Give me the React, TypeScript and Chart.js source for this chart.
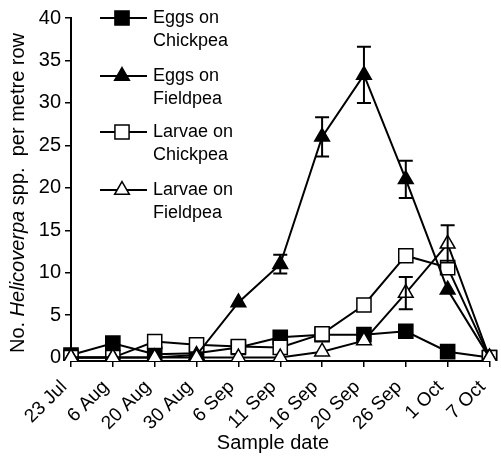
import React, { useEffect, useRef } from 'react';
import { Chart, registerables } from 'chart.js';
Chart.register(...registerables);

const categories = ['23 Jul', '6 Aug', '20 Aug', '30 Aug', '6 Sep', '11 Sep', '16 Sep', '20 Sep', '26 Sep', '1 Oct', '7 Oct'];
const eggsChickpea = [0.3, 1.7, 0.4, 0.5, 1.2, 2.4, 2.7, 2.7, 3.1, 0.7, 0];
const eggsFieldpea = [0, 0, 0, 0.3, 6.5, 11, 26, 33.3, 21, 8, 0];
const larvaeChickpea = [0, 0, 1.9, 1.5, 1.3, 1.2, 2.8, 6.2, 12, 10.6, 0];
const larvaeFieldpea = [0, 0, 0, 0, 0, 0, 0.7, 2.0, 7.6, 13.4, 0];
const eggsFieldpeaErr = [null, null, null, null, null, 1.1, 2.3, 3.3, 2.2, null, null];
const larvaeFieldpeaErr = [null, null, null, null, null, null, null, null, 1.9, 2.2, null];
const yTicks = [0, 5, 10, 15, 20, 25, 30, 35, 40];
const legendNames = [['Eggs on', 'Chickpea'], ['Eggs on', 'Fieldpea'], ['Larvae on', 'Chickpea'], ['Larvae on', 'Fieldpea']];
const xTitle = 'Sample date';

const FAMILY = '"Liberation Sans", Arial, Helvetica, sans-serif';
const FS = 18;
const FS_AXIS = 20;
const FS_XTICK = 19;

function drawMarker(ctx: CanvasRenderingContext2D, style: string, filled: boolean, x: number, y: number, r: number) {
  ctx.save();
  ctx.beginPath();
  if (style === 'rect') {
    const s = Math.SQRT1_2 * r;
    ctx.rect(x - s, y - s, 2 * s, 2 * s);
  } else {
    let rad = 0;
    ctx.moveTo(x + Math.sin(rad) * r, y - Math.cos(rad) * r);
    rad += (2 * Math.PI) / 3;
    ctx.lineTo(x + Math.sin(rad) * r, y - Math.cos(rad) * r);
    rad += (2 * Math.PI) / 3;
    ctx.lineTo(x + Math.sin(rad) * r, y - Math.cos(rad) * r);
    ctx.closePath();
  }
  ctx.fillStyle = filled ? '#000' : '#fff';
  ctx.fill();
  ctx.lineWidth = 1.5;
  ctx.strokeStyle = '#000';
  ctx.stroke();
  ctx.restore();
}

const markerDefs = [
  { style: 'rect', filled: true, r: 10 },
  { style: 'triangle', filled: true, r: 8.5 },
  { style: 'rect', filled: false, r: 10 },
  { style: 'triangle', filled: false, r: 8.5 },
];

const legendPlugin = {
  id: 'customLegend',
  afterDraw(chart: any) {
    const ctx = chart.ctx as CanvasRenderingContext2D;
    const rowsY = [18, 76, 132, 190];
    ctx.save();
    rowsY.forEach((y, i) => {
      ctx.beginPath();
      ctx.moveTo(100, y);
      ctx.lineTo(147, y);
      ctx.lineWidth = 2;
      ctx.strokeStyle = '#000';
      ctx.stroke();
      const m = markerDefs[i];
      drawMarker(ctx, m.style, m.filled, 122, y, m.r);
      ctx.fillStyle = '#000';
      ctx.font = `${FS}px ${FAMILY}`;
      ctx.textBaseline = 'middle';
      ctx.textAlign = 'left';
      ctx.fillText(legendNames[i][0], 153, y);
      ctx.fillText(legendNames[i][1], 153, y + 23);
    });
    ctx.restore();
  },
};

const titlesPlugin = {
  id: 'axisTitles',
  afterDraw(chart: any) {
    const ctx = chart.ctx as CanvasRenderingContext2D;
    const parts: [string, string][] = [
      ['No. ', `${FS_AXIS}px ${FAMILY}`],
      ['Helicoverpa', `italic ${FS_AXIS}px ${FAMILY}`],
      [' spp.  per metre row', `${FS_AXIS}px ${FAMILY}`],
    ];
    ctx.save();
    let total = 0;
    parts.forEach(([t, f]) => {
      ctx.font = f;
      total += ctx.measureText(t).width;
    });
    ctx.translate(18, 193);
    ctx.rotate(-Math.PI / 2);
    ctx.textBaseline = 'middle';
    ctx.textAlign = 'left';
    ctx.fillStyle = '#000';
    let x = -total / 2;
    parts.forEach(([t, f]) => {
      ctx.font = f;
      ctx.fillText(t, x, 0);
      x += ctx.measureText(t).width;
    });
    ctx.restore();

    ctx.save();
    ctx.font = `${FS_AXIS}px ${FAMILY}`;
    ctx.fillStyle = '#000';
    ctx.textAlign = 'center';
    ctx.textBaseline = 'middle';
    ctx.fillText(xTitle, 273, 443);
    ctx.restore();
  },
};

const errorBarPlugin = {
  id: 'errorBars',
  afterDatasetsDraw(chart: any) {
    const ctx = chart.ctx as CanvasRenderingContext2D;
    const xs = chart.scales.x;
    const ys = chart.scales.y;
    const sets: [number[], (number | null)[]][] = [
      [eggsFieldpea, eggsFieldpeaErr],
      [larvaeFieldpea, larvaeFieldpeaErr],
    ];
    ctx.save();
    ctx.strokeStyle = '#000';
    ctx.lineWidth = 2;
    sets.forEach(([vals, errs]) => {
      errs.forEach((e, i) => {
        if (e == null) return;
        const px = xs.getPixelForValue(i);
        const top = ys.getPixelForValue(vals[i] + e);
        const bot = ys.getPixelForValue(vals[i] - e);
        ctx.beginPath();
        ctx.moveTo(px, top);
        ctx.lineTo(px, bot);
        ctx.moveTo(px - 7, top);
        ctx.lineTo(px + 7, top);
        ctx.moveTo(px - 7, bot);
        ctx.lineTo(px + 7, bot);
        ctx.stroke();
      });
    });
    ctx.restore();
  },
};

export default function App() {
  const ref = useRef<HTMLCanvasElement>(null);
  useEffect(() => {
    document.body.style.margin = '0';
    const canvas = ref.current!;
    const font = { family: FAMILY, size: FS_AXIS };
    const ds = (label: string, data: number[], idx: number, order: number) => {
      const m = markerDefs[idx];
      return {
        label,
        data,
        borderColor: '#000',
        backgroundColor: m.filled ? '#000' : '#fff',
        pointBackgroundColor: m.filled ? '#000' : '#fff',
        pointBorderColor: '#000',
        pointStyle: m.style,
        pointRadius: m.r,
        pointBorderWidth: 1.5,
        borderWidth: 2,
        tension: 0,
        order,
      };
    };
    const chart = new Chart(canvas, {
      type: 'line',
      data: {
        labels: categories,
        datasets: [
          ds('Eggs on Chickpea', eggsChickpea, 0, 3),
          ds('Eggs on Fieldpea', eggsFieldpea, 1, 1),
          ds('Larvae on Chickpea', larvaeChickpea, 2, 2),
          ds('Larvae on Fieldpea', larvaeFieldpea, 3, 0),
        ] as any,
      },
      options: {
        responsive: false,
        animation: false,
        layout: { padding: { left: 0, right: 5, top: 18, bottom: 0 } },
        plugins: { legend: { display: false }, tooltip: { enabled: false }, title: { display: false } },
        scales: {
          x: {
            type: 'category',
            offset: false,
            grid: { display: true, drawOnChartArea: false, drawTicks: true, tickLength: 6, color: '#000', lineWidth: 1.5 },
            border: { display: true, color: '#000', width: 2 },
            ticks: { color: '#000', font: { family: FAMILY, size: FS_XTICK }, minRotation: 45, maxRotation: 45, autoSkip: false, padding: 9, labelOffset: -7 },
            title: { display: false },
            afterFit(s: any) {
              s.height = 96;
              s.paddingLeft = 0;
              s.paddingRight = 0;
            },
          },
          y: {
            min: -0.4,
            max: 40,
            afterBuildTicks(s: any) {
              s.ticks = yTicks.map((v) => ({ value: v }));
            },
            grid: { display: true, drawOnChartArea: false, drawTicks: true, tickLength: 6, color: '#000', lineWidth: 1.5 },
            border: { display: true, color: '#000', width: 2 },
            ticks: { color: '#000', font, padding: 4 },
            afterFit(s: any) {
              s.width = 71;
            },
          },
        },
      } as any,
      plugins: [errorBarPlugin, legendPlugin, titlesPlugin],
    });
    return () => chart.destroy();
  }, []);
  return (
    <div style={{ width: 501, height: 457 }}>
      <canvas ref={ref} width={501} height={457} style={{ width: 501, height: 457, display: 'block' }} />
    </div>
  );
}
